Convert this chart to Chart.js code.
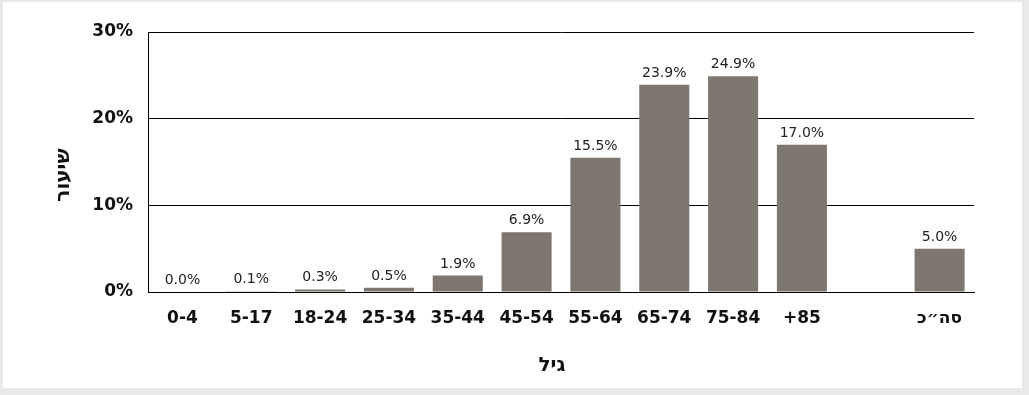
<!DOCTYPE html>
<html>
<head>
<meta charset="utf-8">
<script src="https://cdn.jsdelivr.net/npm/chart.js@4.4.0/dist/chart.umd.min.js"></script>
<style>
  html, body { margin: 0; padding: 0; background: #ebe9e8; }
  #frame { position: absolute; left: 3px; top: 2px; width: 1019px; height: 386px; background: #ffffff; }
  canvas { display: block; }
</style>
</head>
<body>
<div id="frame"><canvas id="c" width="1019" height="386"></canvas></div>
<script>
const categories = ["0-4", "5-17", "18-24", "25-34", "35-44", "45-54", "55-64", "65-74", "75-84", "+85", "", "סה״כ"];
const rates = [0.0, 0.1, 0.3, 0.5, 1.9, 6.9, 15.5, 23.9, 24.9, 17.0, null, 5.0];
const yTicks = [0, 10, 20, 30];
const xTitle = "גיל";
const yTitle = "שיעור";

const FONT = "'DejaVu Sans', sans-serif";

const valueLabels = {
  id: 'valueLabels',
  afterDatasetsDraw(chart) {
    const ctx = chart.ctx;
    const meta = chart.getDatasetMeta(0);
    ctx.save();
    ctx.font = "14px " + FONT;
    ctx.fillStyle = "#222222";
    ctx.textAlign = "center";
    ctx.textBaseline = "alphabetic";
    meta.data.forEach((bar, i) => {
      const v = rates[i];
      if (v === null || v === undefined) return;
      ctx.fillText(v.toFixed(1) + "%", bar.x, bar.y - 8);
    });
    ctx.restore();
  }
};

const axisTitles = {
  id: 'axisTitles',
  afterDraw(chart) {
    const ctx = chart.ctx;
    const area = chart.chartArea;
    ctx.save();
    ctx.fillStyle = "#111111";
    ctx.textAlign = "center";
    ctx.textBaseline = "middle";
    ctx.font = "bold 20px " + FONT;
    ctx.fillText(xTitle, area.left + (area.right - area.left) * 0.489, 364);
    ctx.font = "bold 20px " + FONT;
    ctx.translate(61, area.top + (area.bottom - area.top) * 0.55);
    ctx.rotate(-Math.PI / 2);
    ctx.fillText(yTitle, 0, 0);
    ctx.restore();
  }
};

new Chart(document.getElementById('c'), {
  type: 'bar',
  data: {
    labels: categories,
    datasets: [{
      data: rates,
      backgroundColor: '#7e776f',
      borderWidth: 0,
      barPercentage: 0.727,
      categoryPercentage: 1.0
    }]
  },
  options: {
    responsive: false,
    animation: false,
    layout: { padding: { top: 30, right: 48, bottom: 0, left: 0 } },
    plugins: {
      legend: { display: false },
      tooltip: { enabled: false }
    },
    scales: {
      x: {
        grid: { display: false, drawTicks: false },
        border: { display: true, color: '#000000', width: 1 },
        ticks: {
          color: '#111111',
          font: { family: FONT, size: 17, weight: 'bold' },
          padding: 16,
          maxRotation: 0,
          autoSkip: false
        },
        title: { display: false },
        afterFit(scale) { scale.height = 96; }
      },
      y: {
        min: 0,
        max: 30,
        afterBuildTicks(scale) { scale.ticks = yTicks.map(v => ({ value: v })); },
        grid: { color: '#000000', lineWidth: 1, drawTicks: false },
        border: { display: true, color: '#000000', width: 1 },
        ticks: {
          color: '#111111',
          font: { family: FONT, size: 17, weight: 'bold' },
          padding: 15,
          callback: v => v + '%'
        },
        title: { display: false },
        afterFit(scale) { scale.width = 145; }
      }
    }
  },
  plugins: [valueLabels, axisTitles]
});
</script>
</body>
</html>
